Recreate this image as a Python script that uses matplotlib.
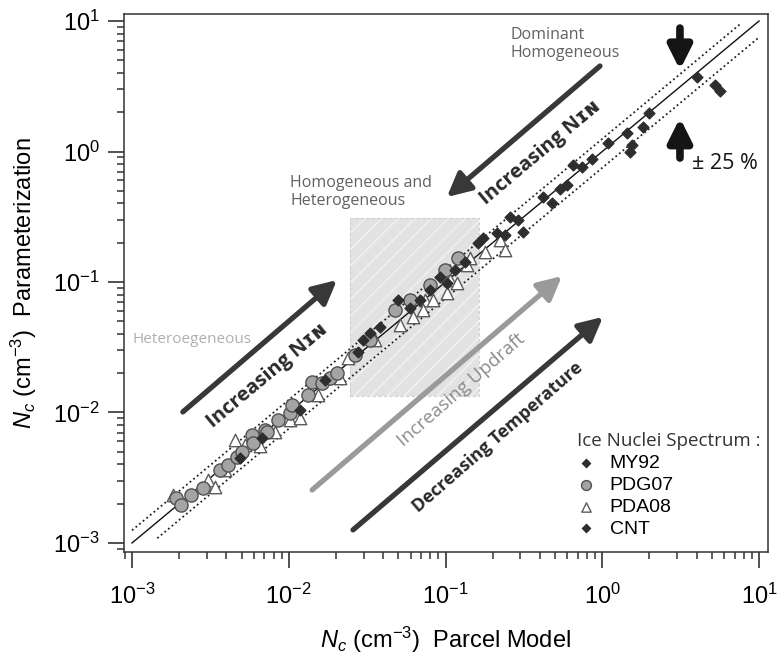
import numpy as np
import matplotlib.pyplot as plt
from matplotlib.patches import Rectangle

plt.rcParams['font.family'] = ['Liberation Sans', 'DejaVu Sans']
plt.rcParams['mathtext.fontset'] = 'custom'
plt.rcParams['mathtext.rm'] = 'Liberation Sans'
plt.rcParams['mathtext.it'] = 'Liberation Sans:italic'
plt.rcParams['mathtext.bf'] = 'Liberation Sans:bold'
plt.rcParams['hatch.linewidth'] = 1.3

# ice crystal number concentration (cm-3): parcel model vs. parameterization
my92_model = [0.0498, 0.0593, 0.0923, 0.0796, 0.102, 0.033, 0.0382, 0.161,
              0.173, 0.0170, 0.00675, 0.0277, 0.0118, 0.00489, 0.0687, 0.0298,
              0.133, 0.115]
my92_param = [0.0728, 0.0632, 0.109, 0.0869, 0.098, 0.0406, 0.0452, 0.199,
              0.217, 0.0177, 0.00638, 0.0291, 0.0104, 0.00448, 0.0728, 0.036,
              0.142, 0.124]

pdg07_model = [0.00191, 0.00206, 0.00238, 0.00284, 0.00364, 0.00409, 0.00468,
               0.00503, 0.00583, 0.00592, 0.00706, 0.00726, 0.00854, 0.0102,
               0.0105, 0.0133, 0.0141, 0.0163, 0.0183, 0.0203, 0.0265, 0.033,
               0.0476, 0.0594, 0.0797, 0.0993, 0.120]
pdg07_param = [0.00221, 0.00195, 0.00233, 0.00264, 0.00362, 0.00396, 0.00456,
               0.00498, 0.00673, 0.00584, 0.00735, 0.0071, 0.00877, 0.00991,
               0.0114, 0.0136, 0.0171, 0.0168, 0.0184, 0.0201, 0.0276, 0.036,
               0.0610, 0.0728, 0.0948, 0.124, 0.153]

pda08_model = [0.00183, 0.00306, 0.00339, 0.00392, 0.00454, 0.00526, 0.0061,
               0.00656, 0.00817, 0.0102, 0.0118, 0.0154, 0.0212, 0.0239,
               0.0355, 0.0513, 0.074, 0.107, 0.143, 0.179, 0.223, 0.240,
               0.0718, 0.0832, 0.102, 0.118, 0.0621, 0.137]
pda08_param = [0.00233, 0.00304, 0.00269, 0.00362, 0.00615, 0.00563, 0.00615,
               0.00554, 0.0071, 0.00877, 0.00908, 0.0136, 0.0184, 0.0262,
               0.036, 0.0468, 0.0728, 0.1035, 0.153, 0.170, 0.210, 0.176,
               0.0610, 0.0728, 0.0824, 0.098, 0.054, 0.135]

cnt_model = [4.02, 5.24, 5.64, 1.99, 1.82, 1.44, 1.55, 1.50, 1.09, 0.86, 0.74,
             0.65, 0.60, 0.54, 0.42, 0.48, 0.31, 0.258, 0.290, 0.213, 0.240]
cnt_param = [3.72, 3.24, 2.91, 1.97, 1.54, 1.39, 1.12, 0.99, 1.16, 0.88, 0.76,
             0.79, 0.55, 0.52, 0.45, 0.40, 0.24, 0.315, 0.299, 0.237, 0.229]

band_hi, band_lo = 1.25, 0.75
one_to_one = [1e-3, 10]
hi_range = [1e-3, 7.6]
lo_range = [1.45e-3, 10]

# mixed homogeneous / heterogeneous regime
mixed_x = [0.0246, 0.164]
mixed_y = [0.0134, 0.309]

fig = plt.figure(figsize=(7.78, 6.62), dpi=100)
ax = fig.add_axes([0.1594, 0.1662, 0.8277, 0.8127])
ax.set_xscale('log')
ax.set_yscale('log')
ax.set_xlim(10 ** -3.051, 10 ** 1.057)
ax.set_ylim(10 ** -3.069, 10 ** 1.054)

ax.add_patch(Rectangle((mixed_x[0], mixed_y[0]), mixed_x[1] - mixed_x[0],
                       mixed_y[1] - mixed_y[0], facecolor='#e2e2e2',
                       edgecolor='#efefef', hatch='//', lw=0, zorder=0))
ax.add_patch(Rectangle((mixed_x[0], mixed_y[0]), mixed_x[1] - mixed_x[0],
                       mixed_y[1] - mixed_y[0], fill=False, edgecolor='#d0d0d0',
                       ls=(0, (3, 2)), lw=0.8, zorder=0))

ax.plot(one_to_one, one_to_one, color='#111111', lw=1.0, zorder=1)
ax.plot(hi_range, [v * band_hi for v in hi_range], color='#222222',
        ls=(0, (1, 1.6)), lw=1.3, zorder=1)
ax.plot(lo_range, [v * band_lo for v in lo_range], color='#222222',
        ls=(0, (1, 1.6)), lw=1.3, zorder=1)

h_pda = ax.scatter(pda08_model, pda08_param, marker='^', s=80, facecolor='white',
                   edgecolor='#5a5a5a', lw=1.0, zorder=3, label='PDA08')
h_pdg = ax.scatter(pdg07_model, pdg07_param, marker='o', s=90, facecolor='#a4a4a4',
                   edgecolor='#505050', lw=1.0, zorder=4, label='PDG07')
h_my = ax.scatter(my92_model, my92_param, marker='D', s=30, facecolor='#2e2e2e',
                  edgecolor='#2e2e2e', zorder=5, label='MY92')
h_cnt = ax.scatter(cnt_model, cnt_param, marker='D', s=30, facecolor='#2e2e2e',
                   edgecolor='#2e2e2e', zorder=5, label='CNT')


def arrow(tail, head, color, lw=3.8, hw=1.3):
    ax.annotate('', xy=head, xytext=tail,
                arrowprops=dict(arrowstyle='-|>,head_length=%.2f,head_width=%.2f' % (1.1 * hw, 0.55 * hw),
                                color=color, lw=lw, shrinkA=0, shrinkB=0),
                zorder=2)


arrow((0.00211, 0.0101), (0.0203, 0.1035), '#383838')
arrow((0.967, 4.52), (0.102, 0.448), '#383838')
arrow((0.0141, 0.00255), (0.553, 0.111), '#9a9a9a')
arrow((0.0257, 0.00126), (1.01, 0.054), '#383838')
arrow((3.13, 8.83), (3.13, 4.22), '#151515', lw=5.5, hw=1.25)
arrow((3.13, 0.891), (3.13, 1.81), '#151515', lw=5.5, hw=1.25)

sans = ['Open Sans', 'DejaVu Sans']
ax.text(0.258, 9.0, 'Dominant\nHomogeneous', family=sans, fontsize=11.5,
        color='#616161', ha='left', va='top', linespacing=1.15)
ax.text(0.0102, 0.66, 'Homogeneous and\nHeterogeneous', family=sans, fontsize=11.5,
        color='#616161', ha='left', va='top', linespacing=1.15)
ax.text(0.00101, 0.036, 'Heteroegeneous', family=sans, fontsize=11,
        color='#b0b0b0', ha='left', va='center')
ax.text(3.74, 0.816, '± 25 %', family=sans, fontsize=15.5, color='#151515',
        ha='left', va='center')
ax.text(0.00726, 0.0191, 'Increasing Nɪɴ', family=sans, fontsize=14.5,
        fontweight='bold', color='#2a2a2a', rotation=40, ha='center', va='center',
        rotation_mode='anchor')
ax.text(0.406, 0.975, 'Increasing Nɪɴ', family=sans, fontsize=14.5,
        fontweight='bold', color='#2a2a2a', rotation=40, ha='center', va='center',
        rotation_mode='anchor')
ax.text(0.1256, 0.0149, 'Increasing Updraft', family=sans, fontsize=13.5,
        color='#8c8c8c', rotation=41, ha='center', va='center',
        rotation_mode='anchor')
ax.text(0.216, 0.00649, 'Decreasing Temperature', family=sans, fontsize=13,
        fontweight='bold', color='#2a2a2a', rotation=41, ha='center', va='center',
        rotation_mode='anchor')

leg = ax.legend(handles=[h_my, h_pdg, h_pda, h_cnt],
                labels=['MY92', 'PDG07', 'PDA08', 'CNT'],
                title='Ice Nuclei Spectrum :', loc='upper left',
                bbox_to_anchor=(0.703, 0.223), frameon=False, fontsize=14,
                title_fontproperties={'family': sans, 'size': 13.5},
                alignment='left', markerscale=0.75, handlelength=1.0,
                handletextpad=0.7, labelspacing=0.22, borderpad=0,
                borderaxespad=0)
leg.get_title().set_color('#333333')

for side in ['left', 'right', 'top', 'bottom']:
    ax.spines[side].set_linewidth(1.1)
    ax.spines[side].set_color('#333333')

ax.tick_params(which='major', length=11.5, width=1.2, labelsize=17,
               color='#333333')
ax.tick_params(which='minor', length=5, width=1.1, color='#333333')
ax.tick_params(axis='x', which='major', pad=11)
ax.tick_params(axis='y', which='major', pad=6)
ax.set_xticks([1e-3, 1e-2, 1e-1, 1e0, 1e1])
ax.set_yticks([1e-3, 1e-2, 1e-1, 1e0, 1e1])

ax.set_xlabel(r'$\mathit{N_c}$ (cm$^{-3}$)  Parcel Model', fontsize=17,
              labelpad=12)
ax.set_ylabel(r'$\mathit{N_c}$ (cm$^{-3}$)  Parameterization', fontsize=17,
              labelpad=10)

fig.savefig('out.png', dpi=100)
